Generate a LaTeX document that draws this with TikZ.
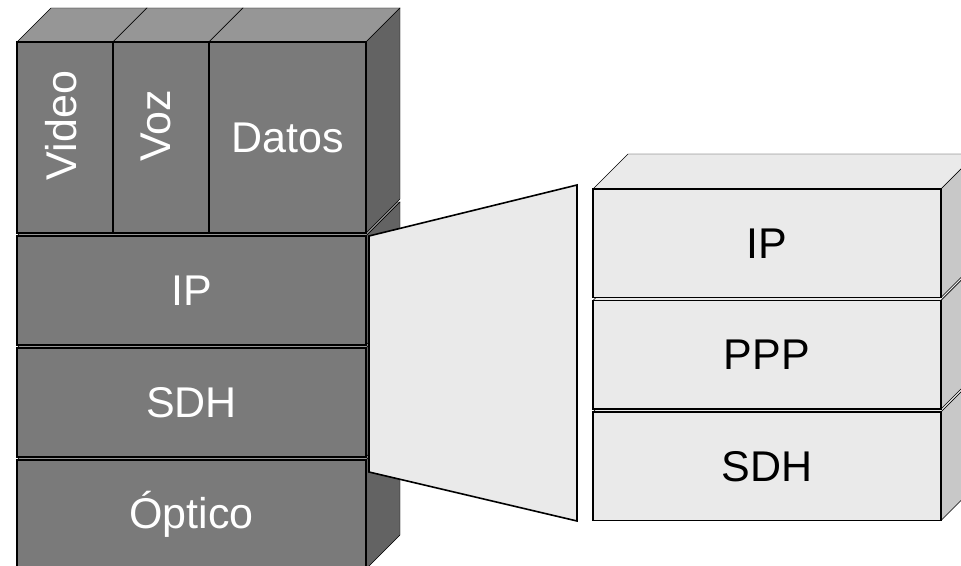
\documentclass[tikz,border=0pt]{standalone}
\usepackage{fontspec}
\setmainfont{Liberation Sans}
\usepackage{xcolor}
\usetikzlibrary{positioning, calc, backgrounds}

\definecolor{darkfront}{HTML}{7A7A7A}
\definecolor{darktop}{HTML}{969696}
\definecolor{darkside}{HTML}{636363}
\definecolor{lightfront}{HTML}{EAEAEA}
\definecolor{lightside}{HTML}{C8C8C8}

\begin{document}
\begin{tikzpicture}[
      x=1pt, y=1pt,
      line width=1.6pt,
      bigfont/.style={font=\fontsize{43}{50}\selectfont},
      dlayer/.style={rectangle, draw, fill=darkfront, text=white, inner sep=0pt, outer sep=0pt,
        minimum width=349pt, minimum height=109pt, bigfont},
      dcol/.style={dlayer, minimum height=191pt},
      dtext/.style={text=white, inner sep=0pt, bigfont},
      llayer/.style={rectangle, draw, fill=lightfront, inner sep=0pt, outer sep=0pt,
        minimum width=348pt, minimum height=108.5pt, bigfont},
      dtop/.style={draw, fill=darktop},
      dside/.style={draw, fill=darkside},
      ltop/.style={draw, fill=lightfront},
      lside/.style={draw, fill=lightside},
      zoomface/.style={draw, fill=lightfront}
    ]

    \useasboundingbox (0,0) rectangle (961,565);

    % Left stack
    \node[dlayer] (opt) at (191.5,50.5) {Óptico};
    \node[dlayer, above=3pt of opt] (lsdh) {SDH};
    \node[dlayer, above=3pt of lsdh] (lip) {IP};
    \node[dcol, minimum width=96pt, above right=3pt and 0pt of lip.north west] (video) {};
    \node[dcol, minimum width=96pt, right=0pt of video] (voz) {};
    \node[dcol, minimum width=157pt, right=0pt of voz] (datos) {Datos};
    \node[dtext, rotate=90] (tvideo) at ($(video.center)+(-4,12)$) {Video};
    \node[dtext, rotate=90] (tvoz) at ($(voz.center)+(-5,12)$) {Voz};

    % Right stack
    \node[llayer] (rip) at (767,321.75) {IP};
    \node[llayer, below=3pt of rip] (rppp) {PPP};
    \node[llayer, below=3pt of rppp] (rsdh) {SDH};

    % Depth faces
    \begin{scope}[on background layer]
      \foreach \n in {opt, lsdh, lip, video, voz, datos} {
        \draw[dtop] (\n.north west) -- ++(34,34) -- ($(\n.north east)+(34,34)$) -- (\n.north east) -- cycle;
        \draw[dside] (\n.north east) -- ++(34,34) -- ($(\n.south east)+(34,34)$) -- (\n.south east) -- cycle;
      }
      \foreach \n in {rsdh, rppp, rip} {
        \draw[ltop] (\n.north west) -- ++(35,35) -- ($(\n.north east)+(35,35)$) -- (\n.north east) -- cycle;
        \draw[lside] (\n.north east) -- ++(35,35) -- ($(\n.south east)+(35,35)$) -- (\n.south east) -- cycle;
      }
    \end{scope}

    % Zoom trapezoid
    \coordinate (ztl) at (369,329);
    \coordinate (ztr) at (577,380);
    \coordinate (zbr) at (577,44);
    \coordinate (zbl) at (369,93);
    \draw[zoomface] (ztl) -- (ztr) -- (zbr) -- (zbl) -- cycle;

  \end{tikzpicture}
\end{document}
